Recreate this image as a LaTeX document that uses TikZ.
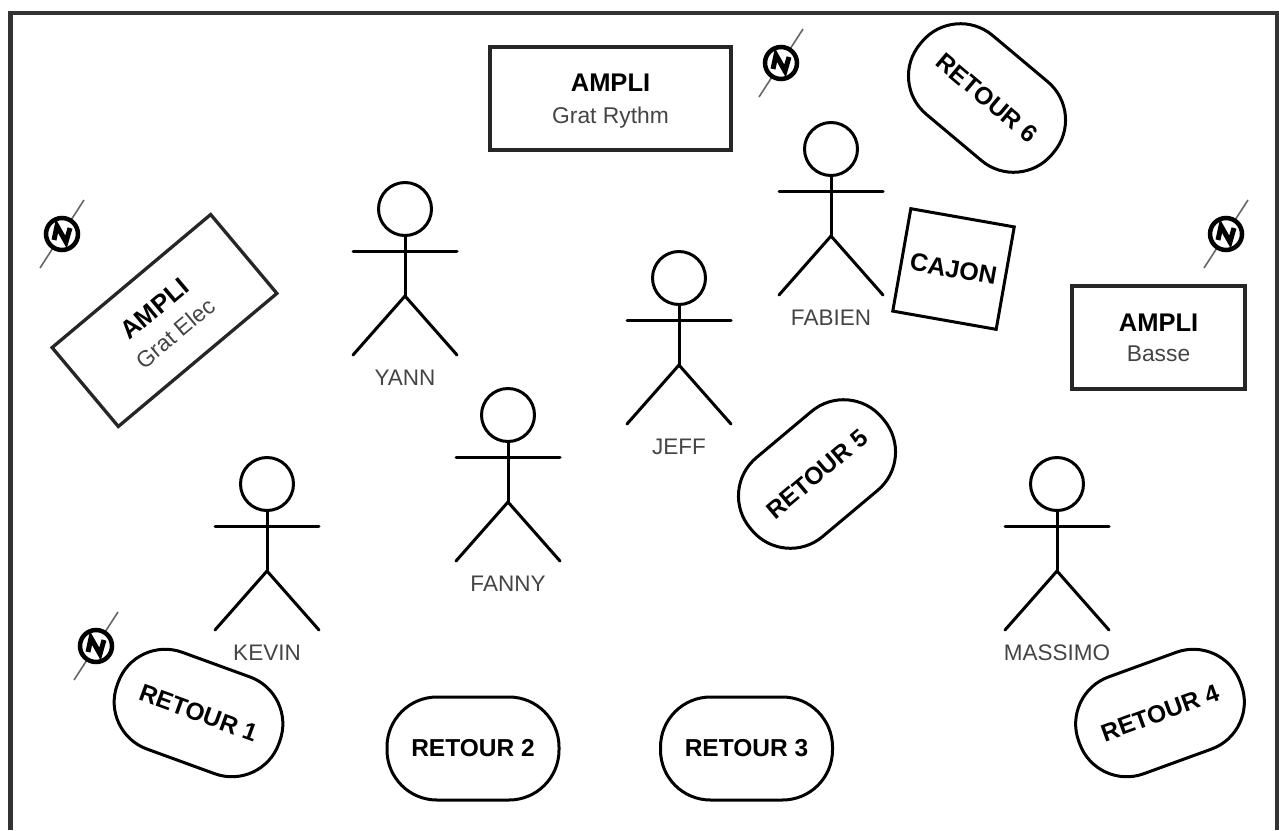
\documentclass[tikz,border=0pt]{standalone}
\usepackage{fontspec}
\setmainfont{Liberation Sans}
\usetikzlibrary{calc}

\newcommand{\amplilabel}[1]{{\bfseries\fontsize{25.5}{32}\selectfont\rule{0pt}{23pt}AMPLI}\\[14pt]{\color{labelgray}\fontsize{22.8}{26}\selectfont #1\vphantom{y}}}
\definecolor{labelgray}{HTML}{444444}

\tikzset{
  ampli/.style={draw,line width=3.3pt,color=black!85,text=black,minimum height=103,align=center,inner sep=0},
  retour/.style={draw,line width=3pt,minimum width=172,minimum height=103,rounded corners=50,inner sep=0,font=\bfseries\fontsize{24.5}{28}\selectfont},
  cajon/.style={draw,line width=3pt,minimum width=105,minimum height=104,inner sep=0,font=\bfseries\fontsize{25}{28}\selectfont},
  person/.style={text=labelgray,inner sep=0,font=\fontsize{22.5}{26}\selectfont},
  limb/.style={line width=3pt,line cap=round}
}

\begin{document}
\begin{tikzpicture}[x=1pt,y=-1pt]
\useasboundingbox (0,0) rectangle (1279,830);
\draw [line width=4.5pt,color=black!80] (10.5,830) -- (10.5,13) -- (1277,13) -- (1277,830);

% amplis
\node [ampli,minimum width=241] (ampliRythm) at (610.5,98.5) {\amplilabel{Grat Rythm}};
\node [ampli,minimum width=173] (ampliBasse) at (1158.5,337.5) {\amplilabel{Basse}};
\node [ampli,minimum width=207,rotate=40] (ampliElec) at (164.5,320.5) {\amplilabel{Grat Elec}};

% cajon
\node [cajon,rotate=-10] (cajon) at (953.5,269) {CAJON};

% retours
\node [retour,rotate=-20] (retour1) at (198.5,713) {RETOUR 1};
\node [retour] (retour2) at (473,748.5) {RETOUR 2};
\node [retour] (retour3) at (746.5,748.5) {RETOUR 3};
\node [retour,rotate=20] (retour4) at (1160,713) {RETOUR 4};
\node [retour,rotate=40] (retour5) at (817,474) {RETOUR 5};
\node [retour,rotate=-40] (retour6) at (987,98) {RETOUR 6};

% musiciens
\foreach \x/\y/\who in {405/209/YANN,679/278/JEFF,508/415/FANNY,267/484/KEVIN,1057/484/MASSIMO,831/149/FABIEN} {
  \draw [limb] (\x,\y) circle (26.5);
  \draw [limb] (\x,\y+27) -- (\x,\y+87);
  \draw [limb] (\x-52,\y+42) -- (\x+52,\y+42);
  \draw [limb] (\x-52,\y+146) -- (\x,\y+87) -- (\x+52,\y+146);
  \node [person] (nom\who) at (\x,\y+169) {\who};
}

% prises
\foreach \x/\y in {62/234,781/63,1226/234,96/646} {
  \draw [line width=1.6pt,color=black!60] (\x-22,\y+34) -- (\x+22,\y-34);
  \draw [line width=4.5pt,fill=white] (\x,\y) circle (16);
  \draw [line width=5pt,miter limit=3] (\x-8,\y+6) -- (\x-5,\y-8) -- (\x+4,\y+8) -- (\x+8,\y-6);
}
\end{tikzpicture}
\end{document}
